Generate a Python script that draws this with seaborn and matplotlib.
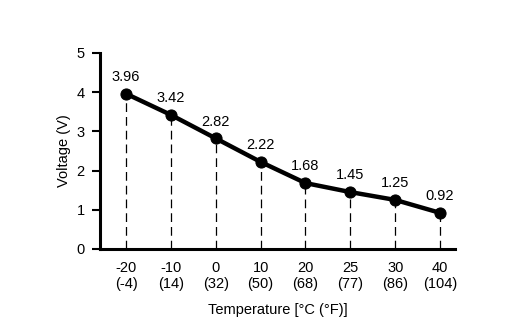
import matplotlib
matplotlib.use("Agg")
import matplotlib.pyplot as plt
import seaborn as sns
import pandas as pd

temps_c = ["-20", "-10", "0", "10", "20", "25", "30", "40"]
temps_f = ["-4", "14", "32", "50", "68", "77", "86", "104"]
voltage = [3.96, 3.42, 2.82, 2.22, 1.68, 1.45, 1.25, 0.92]

sns.set_style("ticks")
plt.rcParams['font.family'] = ['Liberation Sans', 'DejaVu Sans']
plt.rcParams['text.color'] = 'black'
plt.rcParams['axes.labelcolor'] = 'black'
plt.rcParams['xtick.color'] = 'black'
plt.rcParams['ytick.color'] = 'black'

df = pd.DataFrame({"pos": range(len(voltage)), "v": voltage})

fig = plt.figure(figsize=(5.32, 3.31), dpi=100)
ax = fig.add_axes([0.188, 0.248, 0.667, 0.592])

ax.vlines(df["pos"], 0, df["v"], colors="black", linestyles=(0, (7, 4)), linewidth=0.9)
sns.lineplot(data=df, x="pos", y="v", ax=ax, color="black", linewidth=3.2,
             marker="o", markersize=8, markeredgecolor="black")

for p, v in zip(df["pos"], voltage):
    ax.annotate(f"{v:.2f}", (p, v), xytext=(0, 7), textcoords="offset points",
                ha="center", va="bottom", fontsize=10.5, color="black")

fs = 10.5
ax.set_xlim(-0.58, 7.33)
ax.set_ylim(0, 5)
ax.set_yticks([0, 1, 2, 3, 4, 5])
ax.set_xticks(range(len(temps_c)))
ax.set_xticklabels([f"{c}\n({f})" for c, f in zip(temps_c, temps_f)], fontsize=fs,
                   linespacing=1.1)
ax.tick_params(axis="x", length=0, pad=9)
ax.tick_params(axis="y", length=6, width=1.5, labelsize=fs, pad=5)
ax.set_xlabel("Temperature [°C (°F)]", fontsize=fs, labelpad=9)
ax.set_ylabel("Voltage (V)", fontsize=fs, labelpad=4)
for s in ["top", "right"]:
    ax.spines[s].set_visible(False)
for s in ["left", "bottom"]:
    ax.spines[s].set_linewidth(2.2)
    ax.spines[s].set_color("black")

fig.savefig("out.png", dpi=100)
